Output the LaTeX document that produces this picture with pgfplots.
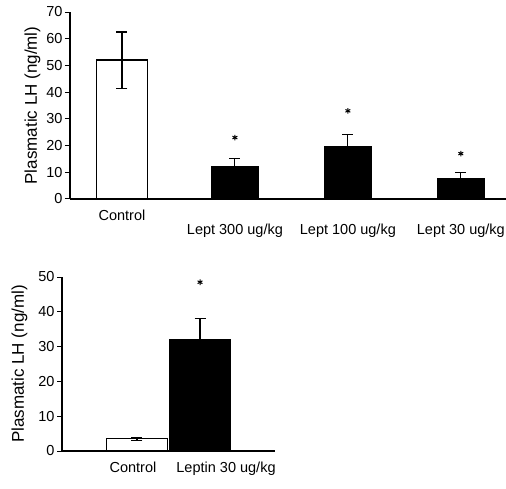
\documentclass[border=0pt]{standalone}
\usepackage{fontspec}
\setmainfont{Liberation Sans}
\usepackage{pgfplots}
\pgfplotsset{compat=1.18}

\pgfplotsset{
  lh/.style={
    scale only axis,
    axis lines=left,
    axis line style={line width=1.2pt,-},
    every tick/.style={black,line width=1pt},
    ytick pos=left,
    tick align=outside,
    major tick length=5pt,
    xtick style={draw=none},
    ymin=0,
    ylabel={Plasmatic LH (ng/ml)},
    ylabel style={font=\fontsize{17}{17}\selectfont},
    tick label style={font=\fontsize{14.5}{14.5}\selectfont},
    yticklabel style={xshift=1pt},
    /pgf/number format/assume math mode=true,
    clip=false,
  },
  ebar/.style={error bars/.cd, y dir=both, y explicit,
    error bar style={line width=1.1pt,black},
    error mark options={rotate=90,mark size=5.5pt,line width=1.1pt,black}},
}

\begin{document}
\begin{tikzpicture}
\useasboundingbox (0pt,0pt) rectangle (506pt,488pt);

% upper panel
\begin{axis}[lh,
    at={(70pt,289pt)}, anchor=south west,
    width=436pt, height=187pt,
    xmin=-0.46, xmax=3.4,
    ymax=70, ytick={0,10,...,70},
    xtick={0,1,2,3},
    xticklabels={Control,\rule{0pt}{25pt}Lept 300 ug/kg,\rule{0pt}{25pt}Lept 100 ug/kg,\rule{0pt}{25pt}Lept 30 ug/kg},
    xticklabel style={yshift=-2pt},
    ylabel style={yshift=-1pt},
]
\addplot[ybar, bar width=0.45, fill=white, draw=black, line width=1.2pt, ebar]
  coordinates {(0,52) +- (0,10.5)};
\addplot[ybar, bar width=0.42, fill=black, draw=black, line width=1.2pt, ebar]
  coordinates {(1,12) +- (0,3) (2,19.5) +- (0,4.5) (3,7.5) +- (0,2.5)};
\addplot[only marks, mark=asterisk, mark size=2.8pt, line width=1pt, black]
  coordinates {(1,23) (2,33) (3,17)};
\end{axis}

% lower panel
\begin{axis}[lh,
    at={(62pt,37pt)}, anchor=south west,
    width=213pt, height=174pt,
    xmin=-1.19, xmax=2.19,
    ymax=50, ytick={0,10,...,50},
    xtick={0,1},
    xticklabels={Control\hspace*{8pt},\hspace*{52pt}Leptin 30 ug/kg},
    xticklabel style={yshift=-2pt},
    ylabel style={yshift=4pt},
]
\addplot[ybar, bar width=0.98, fill=white, draw=black, line width=1.2pt, ebar]
  coordinates {(0,3.5) +- (0,0.5)};
\addplot[ybar, bar width=0.98, fill=black, draw=black, line width=1.2pt, ebar]
  coordinates {(1,32) +- (0,6)};
\addplot[only marks, mark=asterisk, mark size=2.8pt, line width=1pt, black]
  coordinates {(1,48.5)};
\end{axis}
\end{tikzpicture}
\end{document}
